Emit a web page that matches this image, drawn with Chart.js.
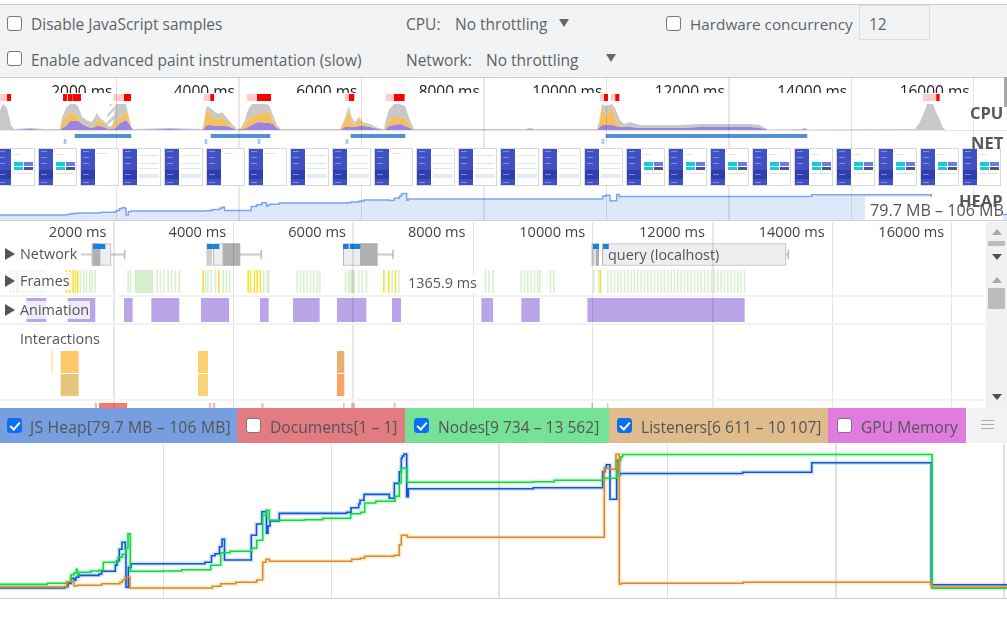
<!DOCTYPE html>
<html>
<head>
<meta charset="utf-8">
<title>Performance</title>
<script src="https://cdn.jsdelivr.net/npm/chart.js@4"></script>
<style>
  html, body { margin: 0; padding: 0; background: #fff; overflow: hidden; }
  #page { position: relative; width: 1007px; height: 618px; overflow: hidden; font-family: "Open Sans", sans-serif; color: #5f6368; }
  #page div, #page canvas { position: absolute; }
  .t { white-space: nowrap; line-height: 20px; font-size: 15.5px; }
  .box { width: 13px; height: 13px; border: 1.5px solid #777; border-radius: 3px; background: #fff; }
  .on { background: #0b6ef5; border-color: #0b6ef5; }
  .on::after { content: ""; position: absolute; left: 4px; top: 1px; width: 4px; height: 8px; border: solid #fff; border-width: 0 2px 2px 0; transform: rotate(42deg); }
  .tri { width: 0; height: 0; border-left: 5px solid transparent; border-right: 5px solid transparent; border-top: 8px solid #666; }
  .up { border-top: 0; border-bottom: 6px solid #a8a8a8; }
  .dn { border-top: 6px solid #505050; }
  .arrow { width: 0; height: 0; border-top: 6px solid transparent; border-bottom: 6px solid transparent; border-left: 10px solid #555; }
  .lbl { background: rgba(255,255,255,.78); color: #555; padding: 0 1px; line-height: 18px; font-size: 14.4px; white-space: nowrap; }
  .sep { left: 0; width: 985px; height: 2px; background: #f3f3f3; }
  .tile { width: 37px; height: 36px; top: 148px; border: 1px solid #d8d8d8; background: #fff; overflow: hidden; }
  .side { left: 0; top: 0; width: 14px; height: 36px; background: #3f51c4; }
  .side2 { left: 0; top: 21px; width: 14px; height: 9px; background: #2f3eaa; }
  .dot { left: 2px; width: 6px; height: 1px; background: #7f8de0; }
  .band { left: 16px; top: 25px; width: 20px; height: 4px; background: #e4eaf8; }
  .ln { left: 16px; height: 1px; width: 19px; background: #e2e2e2; }
  .cy { left: 17px; top: 13px; width: 9px; height: 4px; background: #18c8de; }
  .pu { left: 27px; top: 13px; width: 9px; height: 4px; background: #6e79ea; }
  .cy2 { left: 17px; top: 18px; width: 9px; height: 3px; background: #18c8de; }
  .pu2 { left: 27px; top: 18px; width: 9px; height: 3px; background: #4a5580; }
  .head3 { font-weight: 700; font-size: 16.5px; color: #585858; line-height: 20px; white-space: nowrap; }
  .leg { top: 408px; height: 35px; }
  .legt { top: 9px; font-size: 15.6px; line-height: 20px; white-space: nowrap; color: #555; }
</style>
</head>
<body>
<div id="page">
  <div style="left:0;top:4px;width:1007px;height:72px;background:#f1f3f4;border-top:1px solid #cfcfcf;border-bottom:1px solid #cfcfcf"></div>
  <div class="box" style="left:7px;top:16px"></div>
  <div class="t" style="left:31px;top:14px">Disable JavaScript samples</div>
  <div class="box" style="left:7px;top:51px"></div>
  <div class="t" style="left:31px;top:50px">Enable advanced paint instrumentation (slow)</div>
  <div class="t" style="left:406px;top:14px">CPU:</div>
  <div class="t" style="left:455px;top:14px">No throttling</div>
  <div class="tri" style="left:559px;top:19px"></div>
  <div class="t" style="left:406px;top:50px">Network:</div>
  <div class="t" style="left:486px;top:50px">No throttling</div>
  <div class="tri" style="left:606px;top:54px"></div>
  <div class="box" style="left:666px;top:16px"></div>
  <div class="t" style="left:690px;top:14px;font-size:15.3px">Hardware concurrency</div>
  <div style="left:859px;top:5px;width:69px;height:33px;border:1px solid #ddd"></div>
  <div class="t" style="left:869px;top:14px">12</div>

  <div id="charts" style="left:0;top:0;width:1007px;height:618px"></div>
  <div id="film" style="left:0;top:0;width:1007px;height:0"></div>

  <div style="left:1004px;top:77px;width:3px;height:30px;background:#a8a8a8"></div>
  <div class="head3" style="left:970px;top:103px">CPU</div>
  <div class="head3" style="left:971px;top:133px">NET</div>
  <div style="left:865px;top:197px;width:138px;height:23px;background:#fff"></div>
  <div class="t" style="left:870px;top:200px;color:#555;font-size:16.1px">79.7 MB – 106 MB</div>
  <div class="head3" style="left:959px;top:191px">HEAP</div>
  <div style="left:0;top:220px;width:1007px;height:1px;background:#cfcfcf"></div>

  <div class="sep" style="top:295px"></div>
  <div class="sep" style="top:323px"></div>
  <div class="sep" style="top:399px"></div>
  <div class="arrow" style="left:5px;top:248px"></div>
  <div class="lbl" style="left:19px;top:245px">Network</div>
  <div class="arrow" style="left:5px;top:275px"></div>
  <div class="lbl" style="left:19px;top:272px">Frames</div>
  <div class="arrow" style="left:5px;top:304px"></div>
  <div class="lbl" style="left:19px;top:301px">Animation</div>
  <div class="lbl" style="left:19px;top:330px">Interactions</div>
  <div class="lbl" style="left:407px;top:274px;background:#fff">1365.9 ms</div>
  <div class="lbl" style="left:607px;top:246px;background:none">query (localhost)</div>

  <div style="left:986px;top:222px;width:21px;height:186px;background:#f1f1f1"></div>
  <div class="tri up" style="left:992px;top:229px"></div>
  <div style="left:988px;top:241px;width:17px;height:5px;background:#bdbdbd"></div>
  <div class="tri dn" style="left:992px;top:254px"></div>
  <div class="tri up" style="left:992px;top:277px"></div>
  <div style="left:988px;top:288px;width:17px;height:21px;background:#bdbdbd"></div>
  <div class="tri dn" style="left:992px;top:394px"></div>

  <div class="leg" style="left:0;width:237px;background:#779fe0">
    <div class="box on" style="left:7px;top:10px"></div><div class="legt" style="left:30px;letter-spacing:.22px">JS Heap[79.7 MB – 106 MB]</div>
  </div>
  <div class="leg" style="left:237px;width:168px;background:#e27c82">
    <div class="box" style="left:9px;top:10px"></div><div class="legt" style="left:33px">Documents[1 – 1]</div>
  </div>
  <div class="leg" style="left:405px;width:204px;background:#75e296">
    <div class="box on" style="left:9px;top:10px"></div><div class="legt" style="left:33px">Nodes[9 734 – 13 562]</div>
  </div>
  <div class="leg" style="left:609px;width:219px;background:#e0bb8c">
    <div class="box on" style="left:8px;top:10px"></div><div class="legt" style="left:32px">Listeners[6 611 – 10 107]</div>
  </div>
  <div class="leg" style="left:828px;width:138px;background:#e17be0">
    <div class="box" style="left:9px;top:10px"></div><div class="legt" style="left:33px">GPU Memory</div>
  </div>
  <div class="leg" style="left:966px;width:41px;background:#f1f3f4">
    <div style="left:15px;top:12px;width:13px;height:1px;background:#aaa"></div>
    <div style="left:15px;top:16px;width:13px;height:1px;background:#aaa"></div>
    <div style="left:15px;top:20px;width:13px;height:1px;background:#aaa"></div>
  </div>
  <div style="left:0;top:598px;width:1007px;height:1px;background:#cfcfcf"></div>
</div>

<script>
// Time ranges of the three panels, in ms
const overviewRange = { min: 98, max: 16543 };
const detailRange = { min: 94, max: 16553 };
const counterRange = { min: 94, max: 16921 };

const rulerTicks = [2000, 4000, 6000, 8000, 10000, 12000, 14000, 16000];
const overviewGridWidths = [1, 2, 1, 2, 1, 2, 1, 1];
const detailGridWidths = [2, 1, 2, 1, 1, 2, 1, 1];
const counterGridTicks = [2826, 5637, 8432, 11256, 14063, 16870];
const counterGridWidths = [1, 1, 2, 1, 2, 2];

// CPU overview, stacked
const cpuTimes = [98, 147, 212, 278, 327, 588, 833, 1078, 1110, 1176, 1241, 1323, 1372, 1437, 1535, 1600, 1682, 1731, 1796, 1862, 1927, 1992, 2058, 2156, 2205, 2254, 2286, 2874, 3397, 3429, 3462, 3495, 3527, 3609, 3674, 3723, 3789, 3887, 3968, 4034, 4099, 4148, 4213, 4311, 4425, 4491, 4556, 4621, 4687, 5650, 5683, 5732, 5797, 5846, 5895, 5961, 6026, 6140, 6271, 6369, 6401, 6450, 6532, 6630, 6712, 6793, 6859, 7773, 8671, 8753, 8835, 9847, 9880, 9929, 9994, 10092, 10141, 10223, 10288, 10386, 10549, 11202, 11529, 12346, 12509, 12590, 12639, 13162, 13244, 13293, 15040, 15122, 15203, 15236, 15334, 15383, 15448, 15497, 15546, 16543];
const cpuPurple = [0, 0, 0, 0, 0, 1, 0, 0, 2, 4, 9, 9, 9, 6, 3, 2, 4, 4, 3, 1, 1, 2, 7, 10, 6, 1, 0, 1, 0, 1, 4, 5, 5, 4, 4, 4, 4, 2, 0, 1, 1, 3, 5, 8, 7, 7, 6, 2, 0, 0, 1, 3, 3, 3, 3, 4, 4, 3, 1, 0, 1, 4, 5, 6, 4, 2, 0, 0, 0, 1, 0, 0, 2, 5, 5, 5, 4, 3, 3, 3, 2, 2, 3, 3, 2, 1, 0, 0, 1, 0, 0, 0, 0, 0, 0, 0, 0, 0, 0, 0];
const cpuYellow = [0, 0, 0, 0, 0, 0, 0, 0, 7, 9, 9, 7, 4, 1, 1, 1, 6, 5, 4, 1, 1, 8, 6, 9, 5, 0, 0, 0, 0, 5, 14, 15, 11, 8, 7, 9, 5, 1, 0, 0, 5, 7, 9, 8, 10, 12, 4, 1, 0, 0, 3, 6, 17, 5, 2, 8, 2, 1, 0, 0, 4, 6, 8, 7, 8, 3, 0, 0, 0, 1, 0, 0, 2, 19, 8, 19, 8, 1, 0, 0, 0, 0, 0, 0, 0, 0, 0, 0, 1, 0, 0, 0, 0, 0, 0, 0, 0, 0, 0, 0];
const cpuGray = [20, 26, 22, 5, 1, 1, 1, 1, 3, 9, 8, 10, 11, 6, 5, 5, 7, 3, 2, 2, 1, 16, 13, 7, 1, 1, 1, 1, 1, 2, 4, 4, 6, 6, 5, 5, 4, 3, 1, 1, 4, 10, 12, 10, 9, 6, 5, 2, 1, 1, 1, 3, 4, 4, 3, 1, 2, 2, 1, 1, 5, 10, 13, 13, 12, 5, 1, 1, 1, 0, 1, 1, 4, 2, 11, 2, 10, 6, 3, 5, 3, 3, 3, 3, 3, 1, 0.5, 1, 0, 0.5, 1, 8, 20, 26, 26, 18, 10, 2, 0, 0];
const hatchTimes = [1813, 1894, 1992];
const hatchLoad = [5, 26, 26];

// Long tasks above the CPU graph
const longTaskStarts = [98, 1186, 1268, 1960, 3429, 4131, 5731, 6401, 9896, 10076, 15176];
const longTaskEnds = [218, 1214, 1285, 2128, 3538, 4300, 5802, 6537, 9967, 10152, 15394];
const redTaskStarts = [218, 1132, 1214, 1285, 2128, 3538, 4300, 5802, 6537, 9967, 10152, 15394];
const redTaskEnds = [272, 1186, 1268, 1415, 2232, 3587, 4518, 5878, 6700, 10021, 10206, 15437];

// NET row in the overview
const netStarts = [1323, 3544, 5830, 9994];
const netEnds = [2237, 4507, 6712, 13276];
const netTickStarts = [1143, 3446, 4311, 5748, 9929];
const netTickEnds = [1176, 3478, 4344, 5781, 9962];

// Filmstrip thumbnails, one kind per screenshot
const filmKinds = ['dash', 'dash', 'blank', 'table', 'table', 'blank', 'blank', 'table', 'table', 'blank', 'table', 'table', 'table', 'table', 'table', 'dash', 'dash', 'dash', 'dash', 'dash', 'dash', 'dash', 'dash', 'dash'];

// Network track
const whiskerStarts = [1448, 4104, 6399, 13228];
const whiskerEnds = [2183, 4466, 6667, 13273];
const capStarts = [2170, 4453, 6654, 13260];
const capEnds = [2183, 4466, 6667, 13273];
const requestStarts = [1626, 3659, 5831, 10159];
const requestEnds = [1949, 3826, 6121, 13228];
const darkStarts = [1642, 3826, 6121, 10053];
const darkEnds = [1765, 4104, 6399, 10098];
const midStarts = [3547, 9981];
const midEnds = [3631, 10025];
const chipStarts = [1654, 3559, 3670, 5831, 5943, 10009, 10176];
const chipEnds = [1849, 3659, 3753, 5915, 6110, 10098, 10260];

// Frames track
const fadedFrames = [261, 317, 372, 428, 484, 540, 595, 651, 707, 762, 818];
const greenFrames = [1431, 1487, 1531, 1587, 1626, 1676, 2227, 2266, 2712, 2768, 2823, 2896, 2951, 3018, 3080, 3520, 3559, 3614, 3687, 3815, 3870, 3921, 4494, 4550, 4578, 5051, 5107, 5163, 5218, 5274, 5330, 5386, 5430, 5859, 5915, 6082, 6137, 6210, 6639, 6750, 8198, 8254, 8326, 8794, 8850, 8906, 8961, 9017, 9073, 9106, 9285, 9340, 10009, 10092, 10243, 10298, 10354, 10410, 10465, 10521, 10577, 10632, 10688, 10744, 10800, 10855, 10911, 10967, 11022, 11078, 11134, 11189, 11245, 11301, 11357, 11412, 11468, 11524, 11579, 11635, 11691, 11746, 11802, 11858, 11914, 11969, 12025, 12081, 12136, 12192, 12248, 12303, 12359, 12415, 12471, 12526];
const yellowFrames = [1197, 1253, 1308, 1347, 1386, 3481, 3742, 4233, 4272, 4338, 4383, 4438, 6500, 6583, 6695, 10120];
const longFrameStarts = [2350, 5943];
const longFrameEnds = [2645, 6026];
const frameLength = 16;

// Animation track
const animationStarts = [540, 1230, 2172, 2628, 3458, 4444, 4996, 5731, 6650, 8143, 8811, 9914];
const animationEnds = [863, 1681, 2305, 3085, 3915, 4578, 5430, 6210, 6789, 8326, 9106, 12532];

// Interactions tracks
const interactionStarts = [946, 1113, 3408, 5731];
const interactionEnds = [974, 1403, 3564, 5842];
const interactionColors = ['#fde9c5', '#fec96b', '#fece6f', '#e8b26e'];
const responseStarts = [1113, 3408, 5731];
const responseEnds = [1403, 3564, 5842];
const responseColors = ['#e6c679', '#f7d476', '#fea25f'];

// Long task marks under the interactions
const markStarts = [1681, 1754, 3592, 3659, 4466, 5831, 5965, 5998, 6678, 9981, 10243];
const markEnds = [1709, 2211, 3620, 3687, 4494, 5848, 5987, 6020, 6700, 9997, 10254];
const markColors = ['#f6b9b3', '#f57a6a', '#f6b9b3', '#f6b9b3', '#f6b9b3', '#f6b9b3', '#f6b9b3', '#f6b9b3', '#f6b9b3', '#f6b9b3', '#f6b9b3'];

// Counters: each value holds from its time until the next one
const heapTimes = [94, 1180, 1230, 1280, 1331, 1364, 1409, 1748, 1793, 2021, 2049, 2088, 2133, 2188, 2199, 2238, 2283, 3520, 3628, 3687, 3762, 3804, 3845, 4293, 4380, 4472, 4547, 4572, 4606, 4761, 5887, 5959, 6088, 6110, 6177, 6599, 6683, 6766, 6800, 6816, 6845, 6890, 6917, 9006, 10165, 10204, 10225, 10287, 10399, 10443, 10454, 12504, 13658, 15656, 16921];
const heapValues = [79.7, 79.96, 80.62, 81.6, 81.27, 81.8, 82.19, 82.45, 82.98, 84.2, 85.06, 87.3, 88.67, 87.3, 79.84, 83.76, 84.47, 84.75, 86.04, 86.43, 87.81, 89.26, 85.2, 90.05, 92.26, 94.68, 90.44, 91.87, 92.85, 94.36, 94.56, 95.46, 96.19, 96.92, 98.09, 97.31, 100.25, 102.53, 105.16, 105.61, 106, 97.62, 99.19, 99.39, 102.53, 103.26, 103.9, 97.11, 104.69, 101.88, 102.18, 102.41, 104.3, 80.35, 80.35];
const nodeTimes = [94, 884, 1209, 1280, 1331, 1369, 1386, 1419, 1610, 1753, 1820, 2066, 2138, 2194, 2233, 2271, 2823, 3130, 3615, 3782, 3937, 4300, 4383, 4484, 4539, 4594, 5179, 5486, 5954, 6121, 6188, 6372, 6695, 6766, 6800, 6895, 9006, 9357, 10175, 10399, 10466, 10499, 15668, 16921];
const nodeValues = [9848, 9877, 9923, 10123, 10180, 10277, 10123, 10192, 10229, 10249, 10478, 10621, 10706, 10878, 11296, 10220, 10229, 10266, 10392, 10752, 10792, 10878, 11107, 11822, 11965, 11679, 11696, 11736, 11868, 11908, 12174, 12222, 12365, 12754, 13166, 12766, 12783, 12823, 12880, 13403, 13498, 13562, 9734, 9734];
const listenerTimes = [94, 1209, 1331, 1386, 1793, 2099, 2138, 2183, 2266, 3642, 3782, 4033, 4383, 4484, 4539, 4594, 5971, 6114, 6188, 6683, 6766, 6800, 6900, 10192, 10299, 10387, 10443, 10483, 12515, 15663, 16921];
const listenerValues = [6637, 6776, 6663, 6682, 6723, 6760, 6820, 6891, 6611, 6655, 6723, 6760, 6820, 7283, 7362, 7309, 7362, 7388, 7440, 7466, 7743, 7989, 7937, 9741, 9715, 10107, 6716, 6734, 6760, 6629, 6629];

const FONT = '"Open Sans", sans-serif';
const chartsEl = document.getElementById('charts');

function makeCanvas(left, top, width, height, parent) {
    const canvas = document.createElement('canvas');
    canvas.width = width;
    canvas.height = height;
    canvas.style.left = left + 'px';
    canvas.style.top = top + 'px';
    canvas.style.width = width + 'px';
    canvas.style.height = height + 'px';
    (parent || chartsEl).appendChild(canvas);
    return canvas;
}

function baseOptions(range) {
    return {
        responsive: false,
        animation: false,
        events: [],
        layout: { padding: 0, autoPadding: false },
        plugins: { legend: { display: false }, tooltip: { enabled: false } },
        scales: {
            x: { type: 'linear', display: false, min: range.min, max: range.max },
            y: { display: false }
        }
    };
}

// Vertical time grid only, see-through so it also crosses the tracks
function gridChart(left, top, width, height, range, ticks, widths) {
    const options = baseOptions(range);
    options.scales.x = {
        type: 'linear', display: true, min: range.min, max: range.max,
        afterBuildTicks: scale => { scale.ticks = ticks.map(v => ({ value: v })); },
        border: { display: false },
        ticks: { display: false, autoSkip: false },
        grid: {
            drawTicks: false,
            color: c => widths[c.index] === 2 ? 'rgba(0,0,0,0.09)' : 'rgba(0,0,0,0.11)',
            lineWidth: c => widths[c.index]
        }
    };
    return new Chart(makeCanvas(left, top, width, height), { type: 'line', data: { datasets: [] }, options });
}

// Tick labels "2000 ms" sitting left of each grid line
function rulerChart(left, top, width, height, range, color, size, gap, parent) {
    const options = baseOptions(range);
    options.scales.x = {
        type: 'linear', position: 'top', display: true, min: range.min, max: range.max,
        afterBuildTicks: scale => { scale.ticks = rulerTicks.map(v => ({ value: v })); },
        border: { display: false },
        grid: { display: false, drawTicks: false },
        ticks: {
            autoSkip: false, maxRotation: 0, align: 'end', padding: 0, color,
            font: { family: FONT, size },
            callback: v => v + ' ms' + gap
        }
    };
    return new Chart(makeCanvas(left, top, width, height, parent), { type: 'line', data: { datasets: [] }, options });
}

// One row of floating horizontal bars
function spanChart(left, top, width, height, range, layers) {
    const options = baseOptions(range);
    options.indexAxis = 'y';
    return new Chart(makeCanvas(left, top, width, height), {
        type: 'bar',
        data: {
            labels: ['row'],
            datasets: layers.map((layer, i) => ({
                data: layer.starts.map((s, j) => ({ x: [s, layer.ends[j]], y: 'row' })),
                backgroundColor: layer.color,
                borderColor: layer.border || 'transparent',
                borderWidth: layer.border ? 1 : 0,
                borderSkipped: false,
                barThickness: layer.thickness || height,
                grouped: false,
                order: layers.length - i
            }))
        },
        options
    });
}

function hatchPattern() {
    const c = document.createElement('canvas');
    c.width = 8;
    c.height = 8;
    const g = c.getContext('2d');
    g.fillStyle = '#ffffff';
    g.fillRect(0, 0, 8, 8);
    g.strokeStyle = '#cfcfcf';
    g.lineWidth = 2.5;
    g.beginPath();
    g.moveTo(-2, 10); g.lineTo(10, -2);
    g.moveTo(-6, 6); g.lineTo(6, -6);
    g.moveTo(2, 14); g.lineTo(14, 2);
    g.stroke();
    return g.createPattern(c, 'repeat');
}

function pairs(times, values) {
    return times.map((t, i) => ({ x: t, y: values[i] }));
}

function frameSpans(list) {
    return { starts: list, ends: list.map(t => t + frameLength) };
}

// ---- Overview ----
const rulerClip = document.createElement('div');
rulerClip.style.cssText = 'left:0;top:78px;width:1007px;height:15px;overflow:hidden';
chartsEl.appendChild(rulerClip);
rulerChart(0, 5, 1007, 40, overviewRange, '#222', 15.5, ' ', rulerClip);

spanChart(0, 94, 1007, 7, overviewRange, [
    { starts: longTaskStarts, ends: longTaskEnds, color: '#ffcccc' },
    { starts: redTaskStarts, ends: redTaskEnds, color: '#ff0000' }
]);

function cpuLayer(values, color, fill) {
    return { data: pairs(cpuTimes, values), backgroundColor: color, borderWidth: 0, pointRadius: 0, fill, stack: 'cpu' };
}
const cpuOptions = baseOptions(overviewRange);
cpuOptions.scales.y = { display: false, stacked: true, min: 0, max: 27 };
new Chart(makeCanvas(0, 103, 1007, 27), {
    type: 'line',
    data: {
        datasets: [
            cpuLayer(cpuPurple, '#9d83e0', 'origin'),
            cpuLayer(cpuYellow, '#f3c15f', '-1'),
            cpuLayer(cpuGray, '#c8c8c8', '-1'),
            { data: pairs(hatchTimes, hatchLoad), backgroundColor: hatchPattern(), borderWidth: 0, pointRadius: 0, fill: 'origin', stack: 'hatch' }
        ]
    },
    options: cpuOptions
});
spanChart(0, 130, 1007, 1, overviewRange, [{ starts: [overviewRange.min], ends: [overviewRange.max], color: '#e4e4e4' }]);
spanChart(0, 134, 1007, 4, overviewRange, [{ starts: netStarts, ends: netEnds, color: '#5591d2' }]);
spanChart(0, 139, 1007, 5, overviewRange, [{ starts: netTickStarts, ends: netTickEnds, color: '#a4c8f0' }]);

// JS heap strip, same heap series as the counter graph below
const heapOptions = baseOptions(counterRange);
heapOptions.scales.y = { display: false, min: 73.6, max: 112.7 };
new Chart(makeCanvas(0, 188, 1007, 32), {
    type: 'line',
    data: {
        datasets: [{
            data: pairs(heapTimes, heapValues),
            stepped: 'before',
            borderColor: '#7aa7ef',
            borderWidth: 1.5,
            backgroundColor: '#dfe8fb',
            fill: 'start',
            pointRadius: 0
        }]
    },
    options: heapOptions
});
gridChart(0, 77, 1007, 143, overviewRange, rulerTicks, overviewGridWidths);

// Filmstrip thumbnails are plain boxes
const film = document.getElementById('film');
filmKinds.forEach((kind, i) => {
    const tile = document.createElement('div');
    tile.className = 'tile';
    tile.style.left = (-4 + i * 42) + 'px';
    let inner = '<div class="side"></div><div class="side2"></div>';
    [2, 8, 14, 25, 33].forEach(y => { inner += '<div class="dot" style="top:' + y + 'px"></div>'; });
    if (kind === 'dash') {
        inner += '<div class="cy"></div><div class="pu"></div><div class="cy2"></div><div class="pu2"></div><div class="ln" style="top:24px"></div><div class="ln" style="top:5px;width:8px"></div>';
    } else if (kind === 'table') {
        inner += '<div class="band"></div><div class="ln" style="top:14px"></div><div class="ln" style="top:19px"></div><div class="ln" style="top:6px"></div>';
    } else {
        inner += '<div class="ln" style="top:4px;width:10px"></div>';
    }
    tile.innerHTML = inner;
    film.appendChild(tile);
});

// ---- Detail panel ----
// canvas taller than the labels, layout gives an axis at most half the height
rulerChart(0, 224, 985, 40, detailRange, '#444', 14.6, '  ');

spanChart(0, 243, 985, 23, detailRange, [
    { starts: whiskerStarts, ends: whiskerEnds, color: '#cccccc', thickness: 1.5 },
    { starts: capStarts, ends: capEnds, color: '#bbbbbb', thickness: 9 },
    { starts: requestStarts, ends: requestEnds, color: '#eeeeee', border: '#b8b8b8', thickness: 22 },
    { starts: darkStarts, ends: darkEnds, color: '#b0b0b0', thickness: 22 },
    { starts: midStarts, ends: midEnds, color: '#cfcfcf', thickness: 22 }
]);
spanChart(0, 244, 985, 5, detailRange, [{ starts: chipStarts, ends: chipEnds, color: '#1a7fe0' }]);

spanChart(0, 270, 985, 23, detailRange, [
    Object.assign(frameSpans(fadedFrames), { color: '#eaf6e6' }),
    Object.assign(frameSpans(greenFrames), { color: '#d9f0d0' }),
    { starts: longFrameStarts, ends: longFrameEnds, color: '#d5efcc' },
    Object.assign(frameSpans(yellowFrames), { color: '#f5e23c' })
]);
spanChart(0, 298, 985, 24, detailRange, [{ starts: animationStarts, ends: animationEnds, color: '#b9a5e8' }]);
spanChart(0, 351, 985, 22, detailRange, [{ starts: interactionStarts, ends: interactionEnds, color: interactionColors }]);
spanChart(0, 374, 985, 22, detailRange, [{ starts: responseStarts, ends: responseEnds, color: responseColors }]);
spanChart(0, 403, 985, 5, detailRange, [{ starts: markStarts, ends: markEnds, color: markColors }]);
gridChart(0, 222, 985, 186, detailRange, rulerTicks, detailGridWidths);

// ---- Counters ----
function counterLines(times, values, color, axis, order) {
    const data = pairs(times, values);
    const line = { data, stepped: 'before', yAxisID: axis, pointRadius: 0, fill: false, borderJoinStyle: 'miter' };
    return [
        Object.assign({}, line, { borderColor: color, borderWidth: 1.6, order }),
        Object.assign({}, line, { borderColor: color + '26', borderWidth: 4.5, order: order + 3 })
    ];
}

const counterOptions = baseOptions(counterRange);
counterOptions.scales.x = {
    type: 'linear', display: true, min: counterRange.min, max: counterRange.max,
    afterBuildTicks: scale => { scale.ticks = counterGridTicks.map(v => ({ value: v })); },
    border: { display: false },
    ticks: { display: false, autoSkip: false },
    grid: { drawTicks: false, color: '#e2e2e2', lineWidth: c => counterGridWidths[c.index] }
};
counterOptions.scales.y = { display: false };
counterOptions.scales.yHeap = { display: false, min: 77.74, max: 107.97 };
counterOptions.scales.yNodes = { display: false, min: 9457, max: 13861 };
counterOptions.scales.yListeners = { display: false, min: 6349.5, max: 10377 };

new Chart(makeCanvas(0, 444, 1007, 154), {
    type: 'line',
    data: {
        datasets: [
            ...counterLines(heapTimes, heapValues, '#0b57d8', 'yHeap', 3),
            ...counterLines(nodeTimes, nodeValues, '#0ddc3c', 'yNodes', 2),
            ...counterLines(listenerTimes, listenerValues, '#e08a1e', 'yListeners', 1)
        ]
    },
    options: counterOptions
});
</script>
</body>
</html>
